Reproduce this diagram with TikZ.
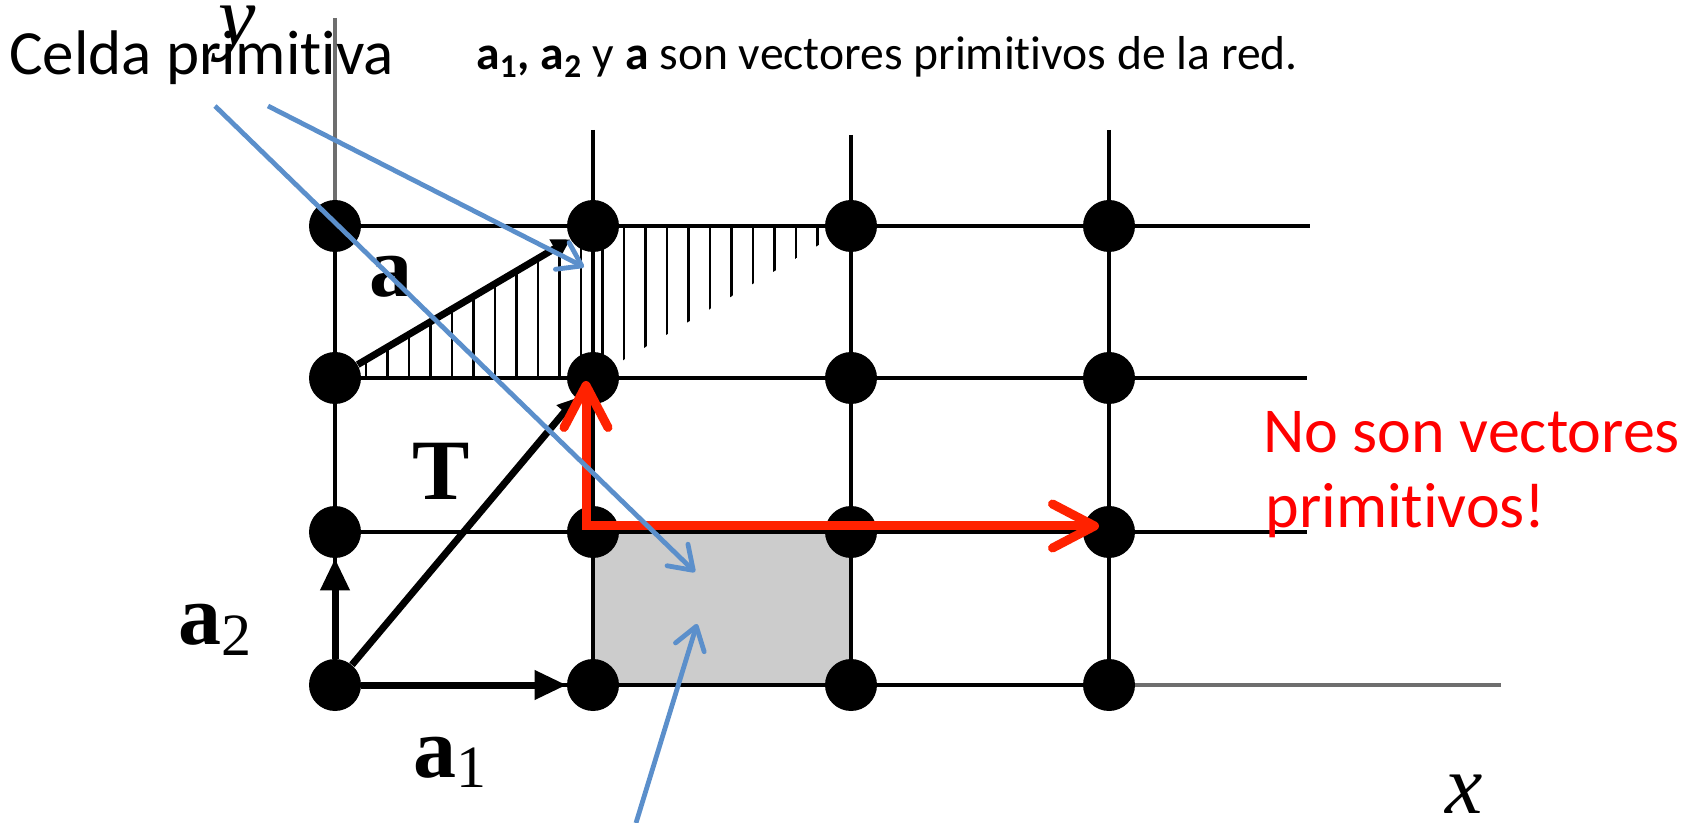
\documentclass[tikz,border=0pt]{standalone}
\usepackage{fontspec}
\setmainfont{Carlito}[Ligatures={NoCommon,NoRequired,NoContextual}]
\newfontfamily\tms{Liberation Serif}
\usetikzlibrary{arrows.meta}
\definecolor{bluearr}{RGB}{91,143,203}
\definecolor{redarr}{RGB}{255,34,0}
\definecolor{redtext}{RGB}{255,0,0}
\definecolor{cellgray}{RGB}{204,204,204}
\definecolor{axisgray}{RGB}{110,110,110}
\begin{document}
\begin{tikzpicture}[x=0.5pt,y=-0.5pt,
  latnode/.style={circle,inner sep=0pt,minimum size=26pt},
  dot/.style={circle,fill=black,inner sep=0pt,minimum size=26pt},
  gridline/.style={line width=1.6pt,black},
  axisline/.style={line width=1.6pt,axisgray},
  hatchline/.style={line width=1.3pt,black},
  vec/.style={line width=3.5pt,-{Triangle[length=16pt,width=14pt]}},
  vecsmall/.style={line width=3.5pt,-{Triangle[length=9pt,width=10pt]}},
  redvec/.style={line width=4.5pt,redarr,line cap=rect,-{Straight Barb[length=21pt,width=22pt,round]}},
  bluevec/.style={line width=2.4pt,bluearr,-{Straight Barb[length=11pt,width=15pt,round]}},
  txt/.style={inner sep=0pt,anchor=base west},
  serif/.style={txt,font=\tms\bfseries\fontsize{43}{50}\selectfont},
]
\useasboundingbox (0,0) rectangle (1693,823);

% lattice node positions
\foreach \c/\x in {1/335,2/593,3/851,4/1109}
  \foreach \r/\y in {1/226,2/378,3/532,4/685}
    \node[latnode] (n\c\r) at (\x,\y) {};

% coordinates for free ends
\coordinate (ytop) at (335,18);
\coordinate (c2t) at (593,130);
\coordinate (c3t) at (851,135);
\coordinate (c4t) at (1109,130);
\coordinate (r1e) at (1310,226);
\coordinate (r2e) at (1307,378);
\coordinate (r3e) at (1307,532);
\coordinate (xend) at (1501,685);

% shaded conventional cell
\fill[cellgray] (n23.center) rectangle (n34.center);

% hatched primitive cell
\begin{scope}
  \clip (n12.center) -- (n21.center) -- (n31.center) -- (n22.center) -- cycle;
  \foreach \k in {0,...,21}
    \draw[hatchline] ({366+21.5*\k},200) -- ({366+21.5*\k},400);
\end{scope}

% grid lines
\draw[axisline] (ytop) -- (n11.center);
\draw[gridline] (n11.center) -- (n14.center);
\draw[gridline] (c2t) -- (n24.center);
\draw[gridline] (c3t) -- (n34.center);
\draw[gridline] (c4t) -- (n44.center);
\draw[gridline] (n11.center) -- (r1e);
\draw[gridline] (n12.center) -- (r2e);
\draw[gridline] (n13.center) -- (r3e);
\draw[gridline] (n14.center) -- (n44.center);
\draw[axisline] (n44.center) -- (xend);

% lattice vectors
\draw[vec] (n14) -- (n24);
\draw[vec] (n14) -- (n13);
\draw[vecsmall] (n14) -- (n22);
\draw[vecsmall] (n12) -- (n21);

% lattice points
\foreach \c in {1,2,3,4}
  \foreach \r in {1,2,3,4}
    \node[dot] at (n\c\r) {};

% red non-primitive vectors
\coordinate (rc) at (586,526);
\coordinate (rt1) at (586,381);
\coordinate (rt2) at (1099,526);
\draw[redvec] (rc) -- (rt1);
\draw[redvec] (rc) -- (rt2);

% labels
\node[serif] (la) at (369,297) {a};
\node[serif] (lT) at (412,500) {T};
\node[serif] (la2) at (178,645) {a\raisebox{-0.12em}{\mdseries\fontsize{30}{30}\selectfont 2}};
\node[serif] (la1) at (413,777) {a\raisebox{-0.12em}{\mdseries\fontsize{30}{30}\selectfont 1}};
\node[txt,font=\tms\itshape\fontsize{42}{50}\selectfont] (ly) at (218,45) {y};
\node[txt,font=\tms\itshape\fontsize{42}{50}\selectfont] (lx) at (1445,813) {x};

\node[txt,font=\fontsize{31.5}{38}\selectfont] (celda) at (9,75) {Celda primitiva};
\node[txt,font=\fontsize{23.8}{28}\selectfont] (top) at (476,70)
  {\textbf{a\textsubscript{1}, a\textsubscript{2}} y \textbf{a} son vectores primitivos de la red.};
\node[txt,text=redtext,font=\fontsize{32}{38}\selectfont] (no1) at (1263,453) {No son vectores};
\node[txt,text=redtext,font=\fontsize{32}{38}\selectfont] (no2) at (1265,528) {primitivos!};

% blue pointer arrows
\coordinate (b1s) at (268,106);
\coordinate (b1e) at (584,267);
\coordinate (b2s) at (215,106);
\coordinate (b2e) at (695,572);
\coordinate (b3s) at (636,823);
\coordinate (b3e) at (697,624);
\draw[bluevec] (b1s) -- (b1e);
\draw[bluevec] (b2s) -- (b2e);
\draw[bluevec] (b3s) -- (b3e);
\end{tikzpicture}
\end{document}
